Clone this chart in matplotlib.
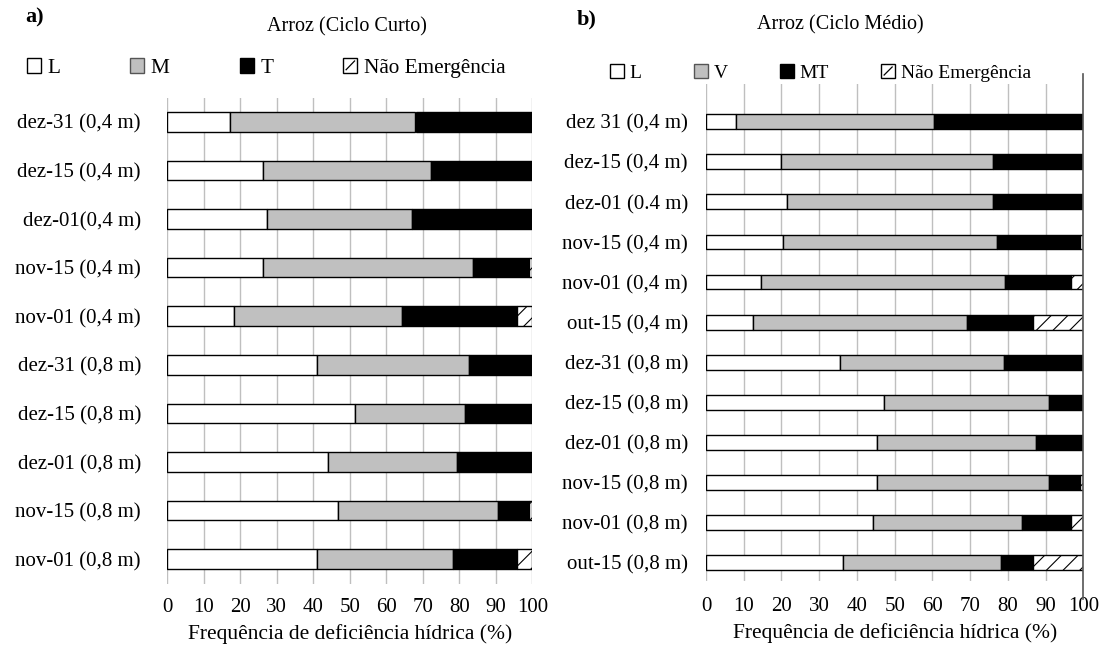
import matplotlib
matplotlib.use("Agg")
import matplotlib.pyplot as plt
from matplotlib.patches import Patch, Rectangle
from matplotlib.lines import Line2D
from matplotlib.legend_handler import HandlerBase
import numpy as np

plt.rcParams['font.family'] = ['Liberation Serif', 'DejaVu Serif']
plt.rcParams['hatch.linewidth'] = 0.8

# ---------------- data ----------------
cats_a = ["dez-31 (0,4 m)", "dez-15 (0,4 m)", "dez-01(0,4 m)", "nov-15 (0,4 m)",
          "nov-01 (0,4 m)", "dez-31 (0,8 m)", "dez-15 (0,8 m)", "dez-01 (0,8 m)",
          "nov-15 (0,8 m)", "nov-01 (0,8 m)"]
L_a = [17.2, 26.3, 27.4, 26.3, 18.4, 40.9, 51.3, 44.1, 46.8, 40.9]
M_a = [50.8, 45.9, 39.6, 57.5, 46.0, 41.7, 30.2, 35.2, 43.9, 37.4]
T_a = [32.0, 27.8, 33.0, 15.4, 31.3, 17.4, 18.5, 20.7, 8.5, 17.4]
NE_a = [0.0, 0.0, 0.0, 0.8, 4.3, 0.0, 0.0, 0.0, 0.8, 4.3]

cats_b = ["dez 31 (0,4 m)", "dez-15 (0,4 m)", "dez-01 (0.4 m)", "nov-15 (0,4 m)",
          "nov-01 (0,4 m)", "out-15 (0,4 m)", "dez-31 (0,8 m)", "dez-15 (0,8 m)",
          "dez-01 (0,8 m)", "nov-15 (0,8 m)", "nov-01 (0,8 m)", "out-15 (0,8 m)"]
L_b = [8.0, 19.9, 21.6, 20.5, 14.6, 12.5, 35.5, 47.3, 45.4, 45.4, 44.2, 36.2]
V_b = [52.4, 56.2, 54.5, 56.6, 64.7, 56.6, 43.5, 43.5, 42.0, 45.4, 39.6, 42.1]
MT_b = [39.6, 23.9, 23.9, 22.0, 17.4, 17.7, 21.0, 9.2, 12.6, 8.3, 13.0, 8.5]
NE_b = [0.0, 0.0, 0.0, 0.9, 3.3, 13.2, 0.0, 0.0, 0.0, 0.9, 3.2, 13.2]

x_ticks = [0, 10, 20, 30, 40, 50, 60, 70, 80, 90, 100]

W, H = 1106, 657
fig = plt.figure(figsize=(W / 100, H / 100), dpi=100)


def px_axes(left, right, top, bottom):
    return fig.add_axes([left / W, 1 - bottom / H, (right - left) / W, (bottom - top) / H])


GRAY = '#bfbfbf'


def draw(ax, cats, series, hatches, colors, height, ylim, xpad, ypad, lab_fs):
    y = np.arange(len(cats))
    left = np.zeros(len(cats))
    for vals, hat, col in zip(series, hatches, colors):
        vals = np.array(vals)
        ax.barh(y, vals, left=left, height=height, color=col, edgecolor='black',
                linewidth=1.0, hatch=hat, zorder=3)
        left = left + vals
    ax.set_xlim(0, 100)
    ax.set_ylim(*ylim)
    ax.set_yticks(y)
    ax.set_yticklabels(cats, fontsize=lab_fs)
    ax.set_xticks(x_ticks)
    ax.set_xticklabels([str(t) for t in x_ticks], fontsize=15)
    ax.tick_params(axis='both', length=0)
    ax.tick_params(axis='x', pad=xpad)
    ax.tick_params(axis='y', pad=ypad)
    ax.grid(axis='x', color=GRAY, linewidth=1.0, zorder=0)
    for s in ax.spines.values():
        s.set_visible(False)


ax_a = px_axes(167.3, 532.3, 97.5, 583.5)
draw(ax_a, cats_a, [L_a, M_a, T_a, NE_a], [None, None, None, '//'],
     ['white', '#c0c0c0', 'black', 'white'], 0.40, (9.5, -0.5), 10.5, 19, 15)

ax_b = px_axes(706, 1083.3, 83.6, 580.8)
draw(ax_b, cats_b, [L_b, V_b, MT_b, NE_b], [None, None, None, '//'],
     ['white', '#c0c0c0', 'black', 'white'], 0.37, (11.45, -0.95), 12, 13, 15)
ax_b.plot([100, 100], [-1.2, 11.9], color='#555555', linewidth=1.2,
          clip_on=False, zorder=4)

# titles and panel letters
fig.text(347 / W, 1 - 27 / H, "Arroz (Ciclo Curto)", ha='center', va='center', fontsize=14.5)
fig.text(840 / W, 1 - 25 / H, "Arroz (Ciclo Médio)", ha='center', va='center', fontsize=14.5)
fig.text(25 / W, 1 - 17 / H, "a)", ha='left', va='center', fontsize=16, fontweight='bold')
fig.text(577 / W, 1 - 19 / H, "b)", ha='left', va='center', fontsize=16, fontweight='bold')

# x labels
fig.text(350 / W, 1 - 634 / H, "Frequência de deficiência hídrica (%)",
         ha='center', va='center', fontsize=15.5)
fig.text(895 / W, 1 - 633 / H, "Frequência de deficiência hídrica (%)",
         ha='center', va='center', fontsize=15.5)


class HatchBoxHandler(HandlerBase):
    def create_artists(self, legend, orig_handle, xdescent, ydescent, width, height,
                       fontsize, trans):
        x0, y0 = -xdescent, -ydescent
        r = Rectangle((x0, y0), width, height, facecolor='white', edgecolor='black',
                      linewidth=1.0, transform=trans)
        ln = Line2D([x0 + 2, x0 + width - 2], [y0 + 2, y0 + height - 2], color='black',
                    linewidth=0.9, transform=trans)
        return [r, ln]


def legend_handles(labels):
    hp = Patch(facecolor='white', edgecolor='black', linewidth=1.0, label=labels[3])
    return [Patch(facecolor='white', edgecolor='black', linewidth=1.0, label=labels[0]),
            Patch(facecolor='#c0c0c0', edgecolor='#555555', linewidth=1.0, label=labels[1]),
            Patch(facecolor='black', edgecolor='black', linewidth=1.0, label=labels[2]),
            hp], hp


ha, hpa = legend_handles(['L', 'M', 'T', 'Não Emergência'])
fig.legend(handles=ha, loc='center left', handler_map={hpa: HatchBoxHandler()},
           bbox_to_anchor=(27 / W, 1 - 68 / H), ncol=4, frameon=False, fontsize=15.3,
           handlelength=0.66, handleheight=0.66, handletextpad=0.3, columnspacing=3.3,
           borderpad=0, borderaxespad=0)
hb, hpb = legend_handles(['L', 'V', 'MT', 'Não Emergência'])
fig.legend(handles=hb, loc='center left', handler_map={hpb: HatchBoxHandler()},
           bbox_to_anchor=(610 / W, 1 - 73 / H), ncol=4, frameon=False, fontsize=14,
           handlelength=0.7, handleheight=0.7, handletextpad=0.3, columnspacing=2.7,
           borderpad=0, borderaxespad=0)

fig.savefig("out.png", dpi=100)
